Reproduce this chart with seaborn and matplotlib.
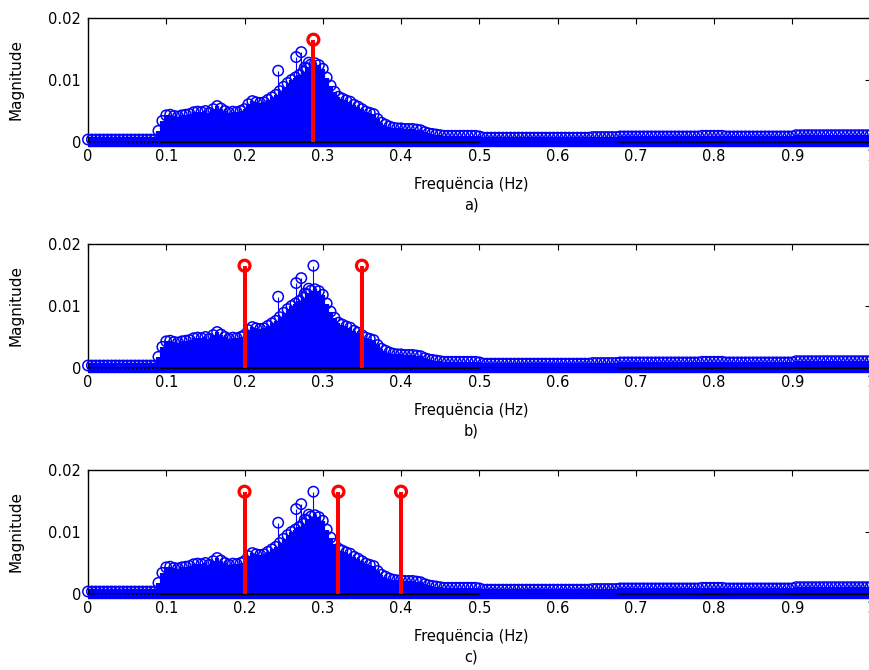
import numpy as np
import matplotlib
matplotlib.use("Agg")
import matplotlib.pyplot as plt
import seaborn as sns

# ---------------- data ----------------
freq_step = 0.005
freqs = np.round(np.arange(201) * freq_step, 3)   # 0.000 ... 1.000 Hz

# spectrum body (envelope of the dense stems), one value per 0.005 Hz
body_mags = [
    # 0.000 - 0.085
    0.0004, 0.0004, 0.0004, 0.0004, 0.0004, 0.0004, 0.0004, 0.0004, 0.0004,
    0.0004, 0.0004, 0.0004, 0.0004, 0.0004, 0.0004, 0.0004, 0.0004, 0.0004,
    # 0.090 - 0.450
    0.0018, 0.0034, 0.0043, 0.0044, 0.0042, 0.0041, 0.0043, 0.0044, 0.0045,
    0.0048, 0.0049, 0.0048, 0.0050, 0.0047, 0.0053, 0.0058, 0.0054, 0.0050,
    0.0047, 0.0049, 0.0048, 0.0050, 0.0053, 0.0061, 0.0066, 0.0064, 0.0063,
    0.0064, 0.0068, 0.0072, 0.0076, 0.0082, 0.0089, 0.0095, 0.0100, 0.0104,
    0.0108, 0.0113, 0.0119, 0.0125, 0.0127, 0.0124, 0.0118, 0.0104, 0.0091,
    0.0081, 0.0073, 0.0070, 0.0067, 0.0065, 0.0060, 0.0057, 0.0053, 0.0049,
    0.0047, 0.0045, 0.0037, 0.0031, 0.0028, 0.0025, 0.0023, 0.0022, 0.0022,
    0.0021, 0.0021, 0.0021, 0.0020, 0.0019, 0.0016, 0.0014, 0.0013, 0.0012,
    0.0011,
    # 0.455 - 0.500
    0.0010, 0.0010, 0.0010, 0.0010, 0.0010, 0.0010, 0.0010, 0.0010, 0.0010,
    0.0009,
    # 0.505 - 0.640
    0.0007, 0.0007, 0.0007, 0.0007, 0.0007, 0.0007, 0.0007, 0.0007, 0.0007,
    0.0007, 0.0007, 0.0007, 0.0007, 0.0007, 0.0007, 0.0007, 0.0007, 0.0007,
    0.0007, 0.0007, 0.0007, 0.0007, 0.0007, 0.0007, 0.0007, 0.0007, 0.0007,
    0.0007,
    # 0.645 - 0.675
    0.0008, 0.0008, 0.0008, 0.0008, 0.0008, 0.0008, 0.0008,
    # 0.680 - 0.780
    0.0009, 0.0009, 0.0009, 0.0009, 0.0009, 0.0009, 0.0009, 0.0009, 0.0009,
    0.0009, 0.0009, 0.0009, 0.0009, 0.0009, 0.0009, 0.0009, 0.0009, 0.0009,
    0.0009, 0.0009, 0.0009,
    # 0.785 - 0.810
    0.0010, 0.0010, 0.0010, 0.0010, 0.0010, 0.0010,
    # 0.815 - 0.900
    0.0009, 0.0009, 0.0009, 0.0009, 0.0009, 0.0009, 0.0009, 0.0009, 0.0009,
    0.0009, 0.0009, 0.0009, 0.0009, 0.0009, 0.0009, 0.0009, 0.0009, 0.0009,
    # 0.905 - 1.000
    0.0011, 0.0011, 0.0011, 0.0011, 0.0011, 0.0011, 0.0011, 0.0011, 0.0011,
    0.0011, 0.0011, 0.0011, 0.0011, 0.0011, 0.0011, 0.0011, 0.0011, 0.0011,
    0.0011, 0.0011,
]

# isolated tall spectral lines standing out of the body
spike_freqs = [0.243, 0.266, 0.2725, 0.277, 0.282, 0.288]
spike_mags = [0.0115, 0.0137, 0.0145, 0.0120, 0.0128, 0.0165]

# red stems (selected frequencies) for panels a), b), c)
red_freqs = {
    "a)": [0.288],
    "b)": [0.20, 0.35],
    "c)": [0.20, 0.32, 0.40],
}
red_mag = 0.0165

panel_names = ["a)", "b)", "c)"]
x_ticks = [0, 0.1, 0.2, 0.3, 0.4, 0.5, 0.6, 0.7, 0.8, 0.9, 1.0]
x_tick_labels = ["0", "0.1", "0.2", "0.3", "0.4", "0.5", "0.6", "0.7", "0.8", "0.9", "1"]
y_ticks = [0, 0.01, 0.02]
y_tick_labels = ["0", "0.01", "0.02"]
x_label = "Frequëncia (Hz)"
y_label = "Magnitude"

# ---------------- style ----------------
sns.set_style("white")
plt.rcParams["font.family"] = ["DejaVu Sans"]
plt.rcParams["text.color"] = "black"
plt.rcParams["axes.labelcolor"] = "black"

BLUE = (0, 0, 1)
RED = (1, 0, 0)

fig = plt.figure(figsize=(8.7, 6.7), dpi=100)
W, H = 870.0, 670.0
left_px, right_px = 88.0, 870.6
tops_px = [18.0, 244.0, 470.0]
height_px = 124.0

all_f = list(freqs) + spike_freqs
all_m = list(body_mags) + spike_mags

for name, top in zip(panel_names, tops_px):
    ax = fig.add_axes([left_px / W, 1 - (top + height_px) / H,
                       (right_px - left_px) / W, height_px / H])
    # dense body stems
    ax.vlines(freqs, 0, body_mags, color=BLUE, lw=3.0, zorder=2)
    # thin stems of the isolated lines
    ax.vlines(spike_freqs, 0, spike_mags, color=BLUE, lw=0.8, zorder=2)
    # open circle markers
    sns.scatterplot(x=all_f, y=all_m, ax=ax, marker="o", s=56, legend=False)
    pc = ax.collections[-1]
    pc.set_facecolor("none")
    pc.set_edgecolor(BLUE)
    pc.set_linewidth(1.1)
    pc.set_clip_on(False)
    pc.set_zorder(3)
    # markers of zero-valued bins below the baseline
    ax.plot([0, 1], [0, 0], color=BLUE, lw=7.5, solid_capstyle="butt",
            zorder=2.5, clip_on=False)
    ax.axhline(0, color="black", lw=1.3, zorder=4)

    # red stems
    rf = red_freqs[name]
    rm = [red_mag] * len(rf)
    ax.vlines(rf, 0, rm, color=RED, lw=2.9, zorder=5)
    sns.scatterplot(x=rf, y=rm, ax=ax, marker="o", s=62, legend=False)
    pr = ax.collections[-1]
    pr.set_facecolor("none")
    pr.set_edgecolor(RED)
    pr.set_linewidth(2.3)
    pr.set_clip_on(False)
    pr.set_zorder(6)

    ax.set_xlim(0, 1)
    ax.set_ylim(0, 0.02)
    ax.set_xticks(x_ticks)
    ax.set_xticklabels(x_tick_labels)
    ax.set_yticks(y_ticks)
    ax.set_yticklabels(y_tick_labels)
    ax.tick_params(direction="in", length=4.5, width=0.8, top=True, right=True,
                   labelsize=10.5, pad=5, colors="black")
    for sp in ax.spines.values():
        sp.set_visible(True)
        sp.set_color("black")
        sp.set_linewidth(1.0)

    ax.set_xlabel(x_label + "\n" + name, fontsize=10.5, linespacing=1.45,
                  color="black")
    ax.xaxis.set_label_coords(0.49, -0.28)
    ax.set_ylabel(y_label, fontsize=11, color="black")
    ax.yaxis.set_label_coords(-0.082, 0.5)

fig.savefig("out.png", dpi=100, facecolor="white")
